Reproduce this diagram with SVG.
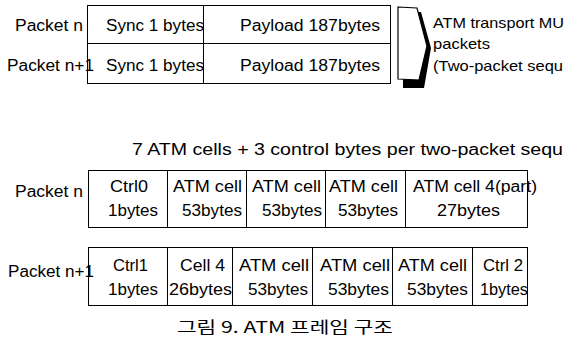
<svg xmlns="http://www.w3.org/2000/svg" width="565" height="340" viewBox="0 0 565 340">
  <style>
    .t { font-family: "Liberation Sans", Arial, Helvetica, sans-serif; font-size: 16px; fill: #000; }
    .s { font-size: 14.5px; }
    .k { font-family: "Noto Sans CJK KR", "Noto Sans", sans-serif; font-size: 15.5px; fill: #000; }
    .box { fill: #fff; stroke: #000; stroke-width: 1; }
    .div { stroke: #000; stroke-width: 1; fill: none; }
  </style>
  <rect width="565" height="340" fill="#fff"/>

  <!-- MPEG transport packets: sync byte + payload -->
  <g id="mux-packets">
    <rect class="box" x="87.5" y="5.5" width="303" height="78"/>
    <line class="div" x1="87.5" y1="43.5" x2="390.5" y2="43.5"/>
    <line class="div" x1="203.5" y1="5.5" x2="203.5" y2="83.5"/>
    <text class="t" x="15" y="31" textLength="68" lengthAdjust="spacingAndGlyphs">Packet n</text>
    <text class="t" x="7" y="71" textLength="87" lengthAdjust="spacingAndGlyphs">Packet n+1</text>
    <text class="t" x="106" y="31" textLength="98" lengthAdjust="spacingAndGlyphs">Sync 1 bytes</text>
    <text class="t" x="106" y="71" textLength="98" lengthAdjust="spacingAndGlyphs">Sync 1 bytes</text>
    <text class="t" x="240" y="31" textLength="140" lengthAdjust="spacingAndGlyphs">Payload 187bytes</text>
    <text class="t" x="240" y="71" textLength="140" lengthAdjust="spacingAndGlyphs">Payload 187bytes</text>
  </g>

  <!-- bracket grouping the two packets -->
  <g id="brace">
    <polygon points="403,12 421,12 431,48 424,88 403,88" fill="#000"/>
    <polygon points="398,7 417,8 427,46 419,80 398,79" fill="#fff" stroke="#000" stroke-width="1.2"/>
  </g>

  <g id="mux-note">
    <text class="t s" x="433" y="28" textLength="131" lengthAdjust="spacingAndGlyphs">ATM transport MU</text>
    <text class="t s" x="433" y="49" textLength="57" lengthAdjust="spacingAndGlyphs">packets</text>
    <text class="t s" x="433" y="71" textLength="130" lengthAdjust="spacingAndGlyphs">(Two-packet sequ</text>
  </g>

  <g id="cells-title">
    <text class="t" x="132" y="155" textLength="431" lengthAdjust="spacingAndGlyphs">7 ATM cells + 3 control bytes per two-packet sequ</text>
  </g>

  <!-- first packet carrying ATM cells -->
  <g id="packet-n">
    <rect class="box" x="88.5" y="170.5" width="439" height="57"/>
    <line class="div" x1="167.5" y1="170.5" x2="167.5" y2="227.5"/>
    <line class="div" x1="246.5" y1="170.5" x2="246.5" y2="227.5"/>
    <line class="div" x1="325.5" y1="170.5" x2="325.5" y2="227.5"/>
    <line class="div" x1="405.5" y1="170.5" x2="405.5" y2="227.5"/>
    <text class="t" x="15" y="197" textLength="68" lengthAdjust="spacingAndGlyphs">Packet n</text>
    <text class="t" x="110" y="192" textLength="38" lengthAdjust="spacingAndGlyphs">Ctrl0</text>
    <text class="t" x="108" y="216" textLength="50" lengthAdjust="spacingAndGlyphs">1bytes</text>
    <text class="t" x="173" y="192" textLength="69" lengthAdjust="spacingAndGlyphs">ATM cell</text>
    <text class="t" x="182" y="216" textLength="60" lengthAdjust="spacingAndGlyphs">53bytes</text>
    <text class="t" x="252" y="192" textLength="69" lengthAdjust="spacingAndGlyphs">ATM cell</text>
    <text class="t" x="262" y="216" textLength="60" lengthAdjust="spacingAndGlyphs">53bytes</text>
    <text class="t" x="329" y="192" textLength="69" lengthAdjust="spacingAndGlyphs">ATM cell</text>
    <text class="t" x="338" y="216" textLength="60" lengthAdjust="spacingAndGlyphs">53bytes</text>
    <text class="t" x="413" y="192" textLength="124" lengthAdjust="spacingAndGlyphs">ATM cell 4(part)</text>
    <text class="t" x="437" y="216" textLength="63" lengthAdjust="spacingAndGlyphs">27bytes</text>
  </g>

  <!-- second packet carrying ATM cells -->
  <g id="packet-n1">
    <rect class="box" x="88.5" y="247.5" width="439" height="58"/>
    <line class="div" x1="167.5" y1="247.5" x2="167.5" y2="305.5"/>
    <line class="div" x1="232.5" y1="247.5" x2="232.5" y2="305.5"/>
    <line class="div" x1="312.5" y1="247.5" x2="312.5" y2="305.5"/>
    <line class="div" x1="392.5" y1="247.5" x2="392.5" y2="305.5"/>
    <line class="div" x1="472.5" y1="247.5" x2="472.5" y2="305.5"/>
    <text class="t" x="8" y="277" textLength="86" lengthAdjust="spacingAndGlyphs">Packet n+1</text>
    <text class="t" x="113" y="271" textLength="35" lengthAdjust="spacingAndGlyphs">Ctrl1</text>
    <text class="t" x="108" y="295" textLength="50" lengthAdjust="spacingAndGlyphs">1bytes</text>
    <text class="t" x="180" y="271" textLength="45" lengthAdjust="spacingAndGlyphs">Cell 4</text>
    <text class="t" x="169" y="295" textLength="63" lengthAdjust="spacingAndGlyphs">26bytes</text>
    <text class="t" x="239" y="271" textLength="70" lengthAdjust="spacingAndGlyphs">ATM cell</text>
    <text class="t" x="248" y="295" textLength="60" lengthAdjust="spacingAndGlyphs">53bytes</text>
    <text class="t" x="320" y="271" textLength="70" lengthAdjust="spacingAndGlyphs">ATM cell</text>
    <text class="t" x="328" y="295" textLength="61" lengthAdjust="spacingAndGlyphs">53bytes</text>
    <text class="t" x="398" y="271" textLength="69" lengthAdjust="spacingAndGlyphs">ATM cell</text>
    <text class="t" x="407" y="295" textLength="61" lengthAdjust="spacingAndGlyphs">53bytes</text>
    <text class="t" x="483" y="271" textLength="40" lengthAdjust="spacingAndGlyphs">Ctrl 2</text>
    <text class="t" x="480" y="295" textLength="48" lengthAdjust="spacingAndGlyphs">1bytes</text>
  </g>

  <g id="caption">
    <text class="k" x="177" y="333" textLength="216" lengthAdjust="spacingAndGlyphs">그림 9. ATM 프레임 구조</text>
  </g>
</svg>
